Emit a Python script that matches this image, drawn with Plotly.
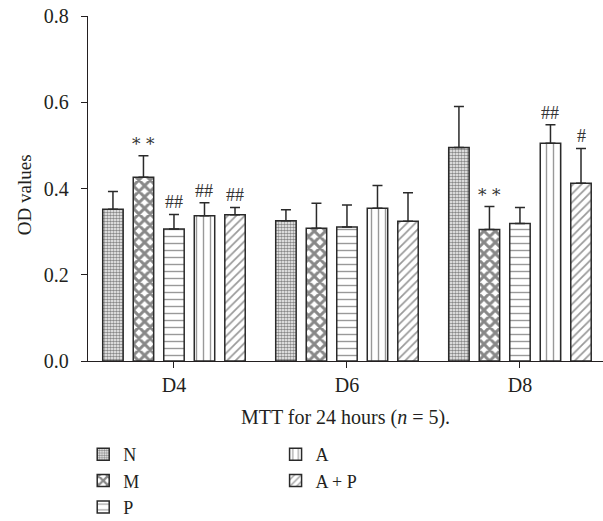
import plotly.graph_objects as go

days = ["D4", "D6", "D8"]
groups = ["N", "M", "P", "A", "A + P"]

# mean OD values per group (D4, D6, D8)
means = {
    "N":     [0.352, 0.325, 0.495],
    "M":     [0.426, 0.308, 0.305],
    "P":     [0.306, 0.311, 0.319],
    "A":     [0.337, 0.354, 0.505],
    "A + P": [0.339, 0.324, 0.412],
}
# upper error (SD) per group
errs = {
    "N":     [0.041, 0.026, 0.095],
    "M":     [0.050, 0.058, 0.053],
    "P":     [0.034, 0.051, 0.037],
    "A":     [0.030, 0.053, 0.043],
    "A + P": [0.017, 0.066, 0.081],
}
# significance marks
marks = {
    "N":     ["", "", ""],
    "M":     ["**", "", "**"],
    "P":     ["##", "", ""],
    "A":     ["##", "", "##"],
    "A + P": ["##", "", "#"],
}

INK = "#231f20"
EDGE = "#2a2a2a"
FONT = "Liberation Serif"

patterns = {
    "N":     dict(shape=".", size=3, solidity=0.6, fgcolor="#111", bgcolor="white"),
    "M":     dict(shape="x", size=8, solidity=0.6, fgcolor="#111", bgcolor="white"),
    "P":     dict(shape="-", size=7, solidity=0.2, fgcolor="#333", bgcolor="white"),
    "A":     dict(shape="|", size=7, solidity=0.2, fgcolor="#333", bgcolor="white"),
    "A + P": dict(shape="/", size=6, solidity=0.28, fgcolor="#333", bgcolor="white"),
}

BARGAP = 0.118
BARGROUPGAP = 0.33

fig = go.Figure()
for j, g in enumerate(groups):
    fig.add_trace(go.Bar(
        x=days, y=means[g], name=g,
        legend="legend" if j < 3 else "legend2",
        marker=dict(color="white", pattern=patterns[g],
                    line=dict(color=EDGE, width=1.5)),
        error_y=dict(type="data", symmetric=False, array=errs[g],
                     arrayminus=[0] * len(days), color=EDGE,
                     thickness=1.5, width=5),
    ))

slot = (1 - BARGAP) / len(groups)
for j, g in enumerate(groups):
    for i in range(len(days)):
        if marks[g][i]:
            fig.add_annotation(
                x=i + (j - (len(groups) - 1) / 2) * slot,
                y=means[g][i] + errs[g][i],
                xref="x", yref="y", text=marks[g][i].replace("*", "* ").strip(),
                showarrow=False, yanchor="bottom", yshift=0,
                font=dict(family="DejaVu Serif" if "*" in marks[g][i] else FONT,
                          size=17 if "*" in marks[g][i] else 18, color="#333"),
            )

fig.add_annotation(
    text="OD values", textangle=-90, xref="paper", yref="paper",
    x=-0.124, y=0.481, xanchor="center", yanchor="middle", showarrow=False,
    font=dict(family=FONT, size=19, color=INK),
)

fig.update_layout(
    width=603, height=521,
    margin=dict(l=88, r=0, t=16, b=160, autoexpand=False),
    paper_bgcolor="white", plot_bgcolor="white",
    barmode="group", bargap=BARGAP, bargroupgap=BARGROUPGAP,
    font=dict(family=FONT, size=19, color=INK),
    xaxis=dict(
        range=[-0.497, 2.48], showline=True, linecolor=INK, linewidth=1.3,
        ticks="outside", ticklen=6, tickcolor=INK, tickwidth=1.3,
        showgrid=False, zeroline=False,
        tickfont=dict(family=FONT, size=20, color=INK),
        title=dict(text="MTT for 24 hours (<i>n</i> = 5).", standoff=14,
                   font=dict(family=FONT, size=20, color=INK)),
    ),
    yaxis=dict(
        range=[0, 0.8], tickvals=[0, 0.2, 0.4, 0.6, 0.8], tickformat=".1f",
        showline=True, linecolor=INK, linewidth=1.3,
        ticks="outside", ticklen=6, tickcolor=INK, tickwidth=1.3,
        showgrid=False, zeroline=False, ticklabelstandoff=8,
        tickfont=dict(family=FONT, size=20, color=INK),
    ),
    legend=dict(
        xref="container", yref="container", x=0.138, y=1 - 436 / 521,
        xanchor="left", yanchor="top", traceorder="normal",
        font=dict(family=FONT, size=18, color=INK), tracegroupgap=0,
        bgcolor="rgba(0,0,0,0)",
    ),
    legend2=dict(
        xref="container", yref="container", x=0.457, y=1 - 436 / 521,
        xanchor="left", yanchor="top", traceorder="normal",
        font=dict(family=FONT, size=18, color=INK), tracegroupgap=0,
        bgcolor="rgba(0,0,0,0)",
    ),
)

fig.write_html("out.html")
